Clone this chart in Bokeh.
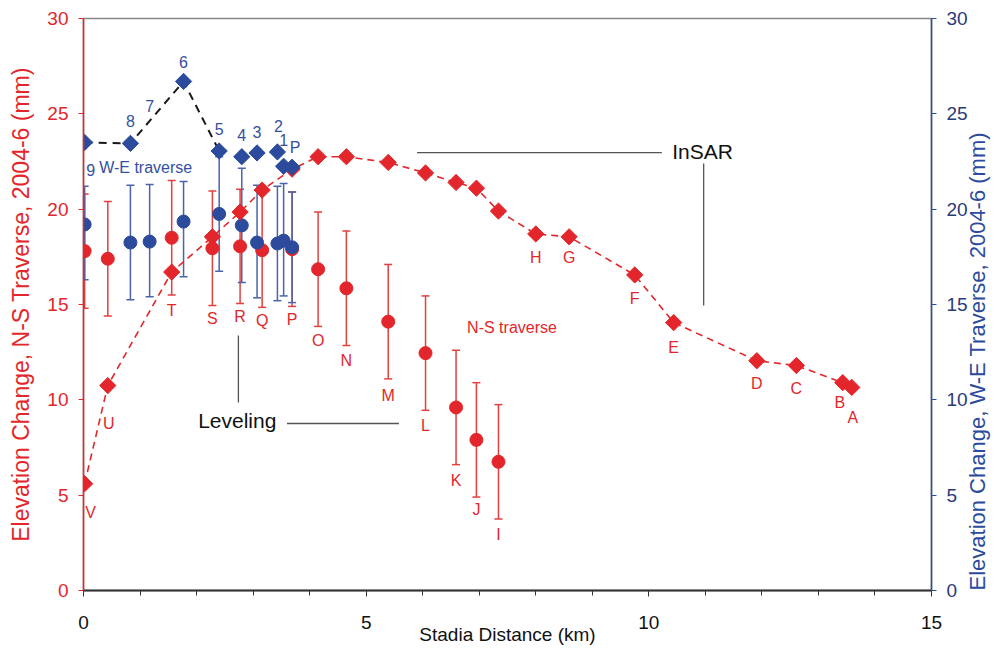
import math
from bokeh.plotting import figure
from bokeh.models import (ColumnDataSource, Whisker, TeeHead, LinearAxis, Range1d,
                          Label, LabelSet, FixedTicker)
from bokeh.embed import file_html
from bokeh.resources import INLINE
from bokeh.core.properties import value

nan = float("nan")

# ---------------- data ----------------
# N-S traverse stations (V ... A), stadia distance in km
ns_stations = ["V", "U", "T", "S", "R", "Q", "P", "O", "N", "M", "L",
               "K", "J", "I", "H", "G", "F", "E", "D", "C", "B", "A"]
ns_distance_km = [0.02, 0.43, 1.56, 2.28, 2.77, 3.16, 3.69, 4.15, 4.65, 5.39, 6.05,
                  6.59, 6.95, 7.34, 8.00, 8.59, 9.75, 10.44, 11.91, 12.61, 13.43, 13.59]
ns_insar_mm = [5.6, 10.75, 16.7, 18.55, 19.85, 21.0, 22.1, 22.75, 22.75, 22.45, 21.9,
               21.4, 21.1, 19.9, 18.7, 18.55, 16.55, 14.05, 12.05, 11.8, 10.9, 10.65]
# leveling exists for stations V ... I
ns_leveling_mm = [17.8, 17.4, 18.5, 17.95, 18.05, 17.85, 17.9, 16.85, 15.85, 14.1,
                  12.45, 9.6, 7.9, 6.75]
ns_leveling_err = [3.0, 3.0, 3.0, 3.0, 3.0, 3.0, 3.0, 3.0, 3.0, 3.0, 3.0, 3.0, 3.0, 3.0]

# W-E traverse stations (9 ... 1, P)
we_stations = ["9", "8", "7", "6", "5", "4", "3", "2", "1", "P"]
we_distance_km = [0.02, 0.83, 1.17, 1.77, 2.40, 2.80, 3.07, 3.43, 3.54, 3.69]
we_insar_mm = [23.5, 23.45, nan, 26.7, 23.05, 22.75, 22.95, 23.0, 22.25, 22.2]
we_leveling_mm = [19.2, 18.25, 18.3, 19.35, 19.75, 19.15, 18.25, 18.2, 18.35, 18.0]
we_err_up = [2.0, 3.0, 3.0, 2.1, 3.0, 3.0, 3.0, 3.0, 3.0, 2.9]
we_err_down = [2.9, 3.0, 2.9, 2.9, 3.0, 3.0, 2.9, 3.0, 2.9, 2.9]
we_line_stations = ["9", "8", "6", "5"]

x_ticks = [0, 5, 10, 15]
y_ticks = [0, 5, 10, 15, 20, 25, 30]

# ---------------- style ----------------
RED = "#e3262b"
RED_BAR = "#e2403f"
BLUE = "#2c4b9c"
BLUE_BAR = "#4a64ac"
BLUE_TXT = "#35509f"
FONT = "Liberation Sans"

p = figure(width=1005, height=653, x_range=Range1d(0, 15), y_range=Range1d(0, 30),
           output_backend="svg", toolbar_location=None,
           min_border_left=83, min_border_right=73, min_border_top=18, min_border_bottom=63)
p.extra_y_ranges = {"we": Range1d(0, 30)}
p.xgrid.visible = False
p.ygrid.visible = False
p.outline_line_color = "#888888"
p.outline_line_width = 1.5
p.background_fill_color = "white"

# ---------------- N-S leveling ----------------
n_lev = len(ns_leveling_mm)
ns_lev_src = ColumnDataSource(dict(
    x=ns_distance_km[:n_lev], y=ns_leveling_mm,
    upper=[v + e for v, e in zip(ns_leveling_mm, ns_leveling_err)],
    lower=[v - e for v, e in zip(ns_leveling_mm, ns_leveling_err)],
))
w = Whisker(source=ns_lev_src, base="x", upper="upper", lower="lower", dimension="height",
            line_color=RED_BAR, line_width=1.5, level="underlay",
            upper_head=TeeHead(size=8, line_color=RED_BAR, line_width=1.5),
            lower_head=TeeHead(size=8, line_color=RED_BAR, line_width=1.5))
p.add_layout(w)
p.scatter("x", "y", source=ns_lev_src, marker="circle", size=13,
          fill_color=RED, line_color=RED)

# ---------------- W-E leveling ----------------
we_lev_src = ColumnDataSource(dict(
    x=we_distance_km, y=we_leveling_mm,
    upper=[v + e for v, e in zip(we_leveling_mm, we_err_up)],
    lower=[v - e for v, e in zip(we_leveling_mm, we_err_down)],
))
w2 = Whisker(source=we_lev_src, base="x", upper="upper", lower="lower", dimension="height",
             line_color=BLUE_BAR, line_width=1.5, level="underlay", y_range_name="we",
             upper_head=TeeHead(size=8, line_color=BLUE_BAR, line_width=1.5),
             lower_head=TeeHead(size=8, line_color=BLUE_BAR, line_width=1.5))
p.add_layout(w2)
p.scatter("x", "y", source=we_lev_src, marker="circle", size=13,
          fill_color=BLUE, line_color=BLUE, y_range_name="we")

# ---------------- N-S InSAR ----------------
ns_ins_src = ColumnDataSource(dict(x=ns_distance_km, y=ns_insar_mm))
p.line("x", "y", source=ns_ins_src, line_color=RED, line_width=1.6, line_dash="7 5")
p.scatter("x", "y", source=ns_ins_src, marker="square", angle=math.pi / 4, size=11.5,
          fill_color=RED, line_color=RED)

# ---------------- W-E InSAR ----------------
idx = [we_stations.index(s) for s in we_line_stations]
we_line_src = ColumnDataSource(dict(x=[we_distance_km[i] for i in idx],
                                    y=[we_insar_mm[i] for i in idx]))
p.line("x", "y", source=we_line_src, line_color="#1a1a1a", line_width=2, line_dash="8 6",
       y_range_name="we")
we_ins_src = ColumnDataSource(dict(x=we_distance_km, y=we_insar_mm))
p.scatter("x", "y", source=we_ins_src, marker="square", angle=math.pi / 4, size=11.5,
          fill_color=BLUE, line_color=BLUE, y_range_name="we")

# ---------------- station labels ----------------
# N-S: labels under InSAR diamond (V, U, H..A) or under leveling error bar (T..I)
ns_lab_down = [29, 38, 16, 13, 13, 13, 13, 14, 15, 17, 15, 16, 12, 15,
               24, 21, 24, 25, 23, 23, 20, 30]
ns_lab_dx = [6, 1, 0, 0, 0, 0, 0, 0, 0, 0, 0, 0, 0, 0, 0, 0, 0, 0, 0, 0, -3, 1]
ns_anchor = []
for i, s in enumerate(ns_stations):
    if 2 <= i < n_lev:
        ns_anchor.append(ns_leveling_mm[i] - ns_leveling_err[i])
    else:
        ns_anchor.append(ns_insar_mm[i])
ns_lab_src = ColumnDataSource(dict(x=ns_distance_km, y=ns_anchor, t=ns_stations,
                                   dx=ns_lab_dx, dy=[-d for d in ns_lab_down]))
p.add_layout(LabelSet(x="x", y="y", text="t", source=ns_lab_src, x_offset="dx", y_offset="dy",
                      text_font=value(FONT), text_font_size="16px", text_color=RED,
                      text_align="center", text_baseline="middle"))

# W-E: labels above the InSAR diamonds (9 below; 7 on the dashed line)
valid_x = [we_distance_km[i] for i in idx]
valid_y = [we_insar_mm[i] for i in idx]


def interp(xq, xs, ys):
    for k in range(len(xs) - 1):
        if xs[k] <= xq <= xs[k + 1]:
            f = (xq - xs[k]) / (xs[k + 1] - xs[k])
            return ys[k] + f * (ys[k + 1] - ys[k])
    return ys[-1]


we_anchor = [v if not math.isnan(v) else interp(x, valid_x, valid_y)
             for x, v in zip(we_distance_km, we_insar_mm)]
we_lab_down = [28, -22, -15, -19, -22, -22, -21, -26, -26, -20]
we_lab_dx = [6, 0, 0, 0, 0, 0, 0, 1, 0, 3]
we_lab_src = ColumnDataSource(dict(x=we_distance_km, y=we_anchor, t=we_stations,
                                   dx=we_lab_dx, dy=[-d for d in we_lab_down]))
p.add_layout(LabelSet(x="x", y="y", text="t", source=we_lab_src, x_offset="dx", y_offset="dy",
                      text_font=value(FONT), text_font_size="16px", text_color=BLUE_TXT,
                      text_align="center", text_baseline="middle", y_range_name="we"))

# ---------------- annotations ----------------
LEAD = "#555555"
p.segment(x0=[5.90, 10.97, 3.60, 2.74], y0=[22.97, 22.39, 8.76, 13.37],
          x1=[10.23, 10.97, 5.58, 2.74], y1=[22.97, 14.95, 8.76, 9.86],
          line_color=LEAD, line_width=1.3)
p.add_layout(Label(x=10.95, y=23.0, text="InSAR", text_align="center", text_baseline="middle",
                   text_font=FONT, text_font_size="21px", text_color="#111111"))
p.add_layout(Label(x=2.72, y=8.91, text="Leveling", text_align="center", text_baseline="middle",
                   text_font=FONT, text_font_size="21px", text_color="#111111"))
p.add_layout(Label(x=7.58, y=13.79, text="N-S traverse", text_align="center",
                   text_baseline="middle", text_font=FONT, text_font_size="16px",
                   text_color=RED))
p.add_layout(Label(x=1.10, y=22.18, text="W-E traverse", text_align="center",
                   text_baseline="middle", text_font=FONT, text_font_size="16px",
                   text_color=BLUE_TXT, y_range_name="we"))

# ---------------- axes ----------------
xa = p.xaxis[0]
xa.ticker = FixedTicker(ticks=x_ticks, minor_ticks=list(range(0, 16)))
xa.axis_label = "Stadia Distance (km)"
xa.axis_line_color = "#333333"
xa.axis_line_width = 2
xa.major_tick_line_color = "#333333"
xa.minor_tick_line_color = "#333333"
xa.major_tick_out = 6
xa.major_tick_in = 0
xa.minor_tick_out = 5
xa.minor_tick_in = 0
xa.major_label_standoff = 19
xa.major_label_text_font = FONT
xa.major_label_text_font_size = "19px"
xa.major_label_text_color = "#111111"
xa.axis_label_text_font = FONT
xa.axis_label_text_font_size = "19px"
xa.axis_label_text_font_style = "normal"
xa.axis_label_text_color = "#111111"
xa.axis_label_standoff = -8

ya = p.yaxis[0]
ya.ticker = FixedTicker(ticks=y_ticks)
ya.axis_label = "Elevation Change, N-S Traverse, 2004-6 (mm)"
ya.axis_line_color = RED
ya.axis_line_width = 1.5
ya.major_tick_line_color = RED
ya.major_tick_out = 5
ya.major_tick_in = 0
ya.minor_tick_out = 0
ya.minor_tick_in = 0
ya.major_label_standoff = 10
ya.major_label_text_font = FONT
ya.major_label_text_font_size = "19px"
ya.major_label_text_color = RED
ya.axis_label_text_font = FONT
ya.axis_label_text_font_size = "23px"
ya.axis_label_text_font_style = "normal"
ya.axis_label_text_color = RED
ya.axis_label_standoff = 10

ra = LinearAxis(y_range_name="we", ticker=FixedTicker(ticks=y_ticks))
ra.axis_label = "Elevation Change, W-E Traverse, 2004-6 (mm)"
ra.axis_line_color = BLUE
ra.axis_line_width = 1.5
ra.major_tick_line_color = BLUE
ra.major_tick_out = 5
ra.major_tick_in = 0
ra.minor_tick_out = 0
ra.minor_tick_in = 0
ra.major_label_standoff = 10
ra.major_label_text_font = FONT
ra.major_label_text_font_size = "19px"
ra.major_label_text_color = "#2b3a78"
ra.axis_label_text_font = FONT
ra.axis_label_text_font_size = "22px"
ra.axis_label_text_font_style = "normal"
ra.axis_label_text_color = BLUE
ra.axis_label_standoff = 7
try:
    ra.axis_label_align = "start"
    ra.axis_label_orientation = math.pi / 2
except AttributeError:
    ra.axis_label_standoff = 4
p.add_layout(ra, "right")

open("out.html", "w").write(file_html(p, INLINE))
